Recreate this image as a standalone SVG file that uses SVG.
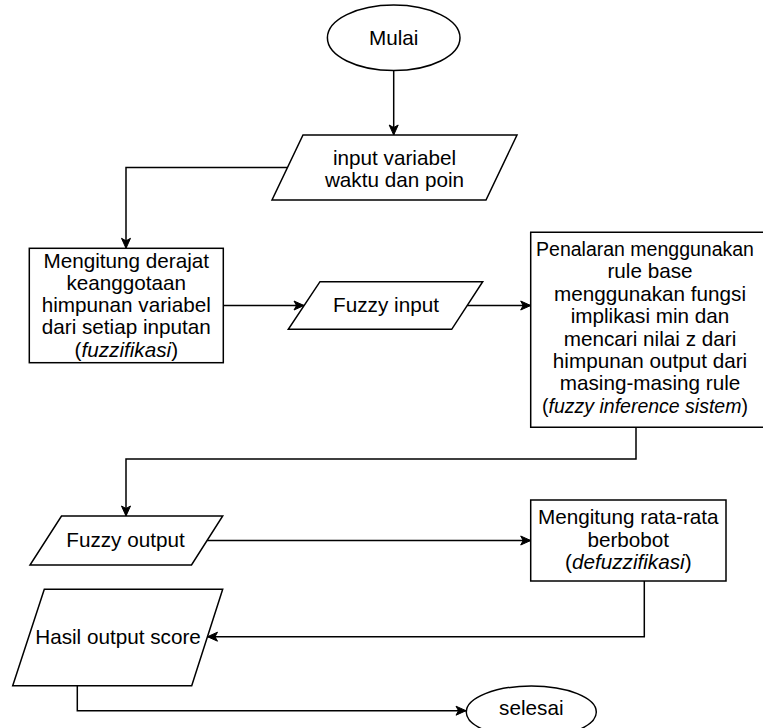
<svg xmlns="http://www.w3.org/2000/svg" width="763" height="728" viewBox="0 0 763 728">
<style>
.shape{fill:#fff;stroke:#000;stroke-width:1.5}
.lbl{font-family:"Liberation Sans",Arial,sans-serif;font-size:20.7px;fill:#000;text-anchor:middle}
.sm{font-size:19.5px}
.it{font-style:italic}
.conn{fill:none;stroke:#000;stroke-width:1.5;marker-end:url(#arr)}
</style>
<defs>
<marker id="arr" viewBox="0 0 12 12" refX="11" refY="6" markerWidth="12" markerHeight="12" markerUnits="userSpaceOnUse" orient="auto">
<path d="M1,1.5 L11,6 L1,10.5 L3.5,6 Z" fill="#000" stroke="#000" stroke-width="1"/>
</marker>
</defs>
<rect width="763" height="728" fill="#fff"/>
<g id="connectors">
<path class="conn" d="M393.7,70.7 L393.7,135"/>
<path class="conn" d="M287.4,167.5 H126 V248.3"/>
<path class="conn" d="M223.3,305.5 H304"/>
<path class="conn" d="M467.2,305.5 H530.7"/>
<path class="conn" d="M636,427.3 V459 H126 V516"/>
<path class="conn" d="M207.2,540.5 H530.7"/>
<path class="conn" d="M644.3,581 V636.7 H207.5"/>
<path class="conn" d="M77.3,685.7 V710.7 H466"/>
</g>
<g id="mulai">
<ellipse class="shape" cx="393.7" cy="37.8" rx="66.3" ry="32.8"/>
<text class="lbl" x="393.7" y="45">Mulai</text>
</g>
<g id="input-variabel">
<polygon class="shape" points="303,135 517,135 486,200 272,200"/>
<text class="lbl" x="394.5" y="164.5">input variabel</text>
<text class="lbl" x="394.5" y="187">waktu dan poin</text>
</g>
<g id="fuzzifikasi">
<rect class="shape" x="29.3" y="248.3" width="194" height="114.4"/>
<text class="lbl" x="126.3" y="267.5">Mengitung derajat</text>
<text class="lbl" x="126.3" y="289.8">keanggotaan</text>
<text class="lbl" x="126.3" y="312.1">himpunan variabel</text>
<text class="lbl" x="126.3" y="334.4">dari setiap inputan</text>
<text class="lbl" x="126.3" y="356.7">(<tspan class="it">fuzzifikasi</tspan>)</text>
</g>
<g id="fuzzy-input">
<polygon class="shape" points="320,281.7 482.7,281.7 451.7,329.3 288.3,329.3"/>
<text class="lbl" x="386" y="312">Fuzzy input</text>
</g>
<g id="inference">
<path class="shape" d="M763,232.3 H530.7 V427.3 H763"/>
<text class="lbl sm" x="645" y="256">Penalaran menggunakan</text>
<text class="lbl" x="650" y="278.4">rule base</text>
<text class="lbl" x="650" y="300.8">menggunakan fungsi</text>
<text class="lbl" x="650" y="323.2">implikasi min dan</text>
<text class="lbl" x="650" y="345.6">mencari nilai z dari</text>
<text class="lbl" x="650" y="368">himpunan output dari</text>
<text class="lbl" x="650" y="390.4">masing-masing rule</text>
<text class="lbl sm" x="645" y="412.8">(<tspan class="it">fuzzy inference sistem</tspan>)</text>
</g>
<g id="fuzzy-output">
<polygon class="shape" points="61.5,516 222.7,516 191.5,565 30,565"/>
<text class="lbl" x="125.5" y="547">Fuzzy output</text>
</g>
<g id="defuzzifikasi">
<rect class="shape" x="530.7" y="500" width="195.3" height="81"/>
<text class="lbl" x="628.3" y="524.2">Mengitung rata-rata</text>
<text class="lbl" x="628.3" y="546.5">berbobot</text>
<text class="lbl" x="628.3" y="568.8">(<tspan class="it">defuzzifikasi</tspan>)</text>
</g>
<g id="hasil">
<polygon class="shape" points="44.3,589.3 222.7,589.3 191.7,685.7 12.7,685.7"/>
<text class="lbl" x="118" y="644">Hasil output score</text>
</g>
<g id="selesai">
<ellipse class="shape" cx="531.3" cy="712" rx="65" ry="26"/>
<text class="lbl" x="531.3" y="715">selesai</text>
</g>
</svg>
